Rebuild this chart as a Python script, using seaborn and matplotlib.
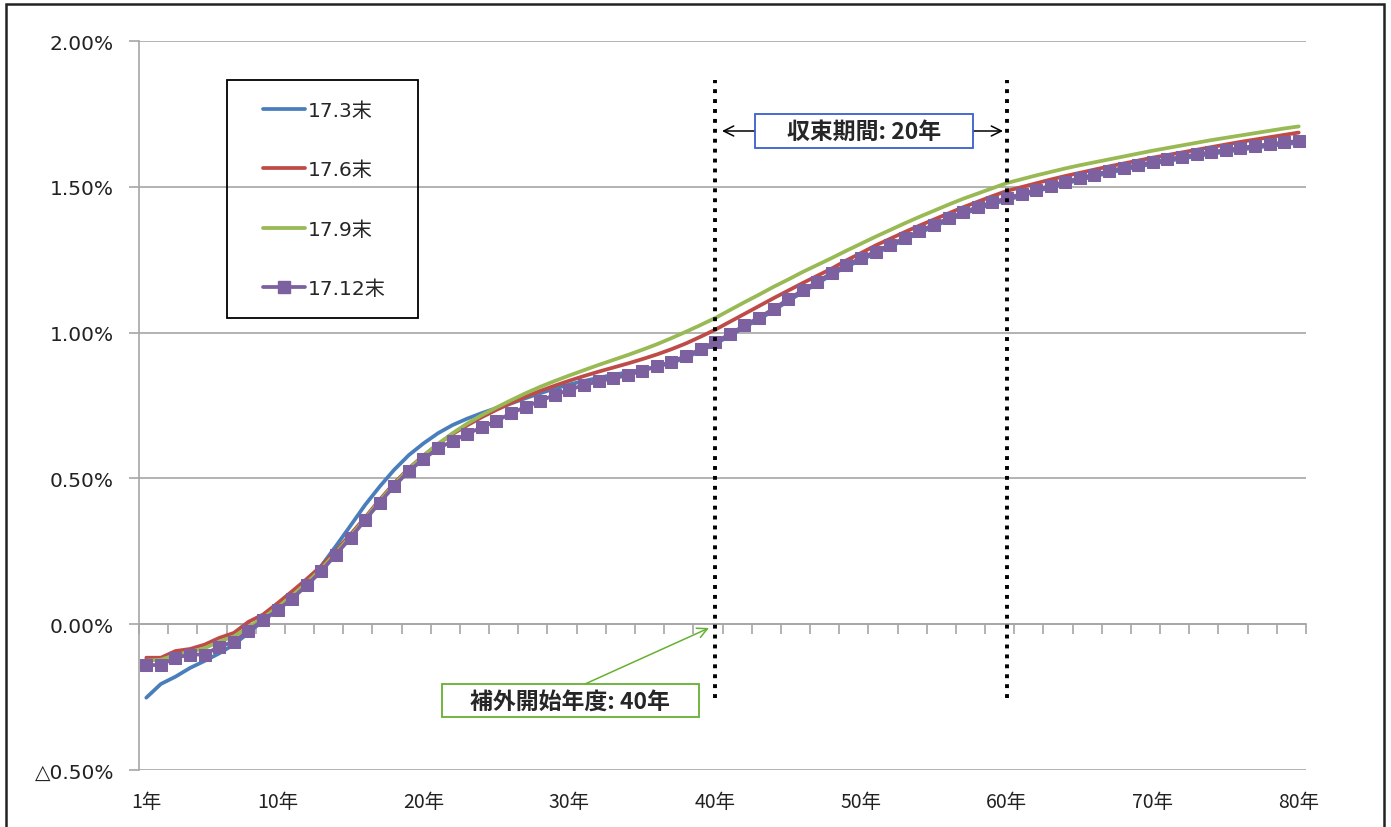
import numpy as np
import pandas as pd
import matplotlib
matplotlib.use('Agg')
import matplotlib.pyplot as plt
import seaborn as sns
from matplotlib.patches import Rectangle
from matplotlib.lines import Line2D

sns.set_style('white')
plt.rcParams['font.family'] = ['DejaVu Sans', 'Noto Sans CJK JP']
plt.rcParams['axes.unicode_minus'] = False

# 経過年数 (1年 ~ 80年)
years = list(range(1, 81))
series_names = ['17.3末', '17.6末', '17.9末', '17.12末']
colors = ['#4a7ebb', '#be4b48', '#98b954', '#7d60a0']

# フォワードレート (%)
rate_1703 = [-0.252, -0.205, -0.180, -0.150, -0.126, -0.100, -0.070, -0.030, 0.012, 0.050,
             0.092, 0.140, 0.200, 0.268, 0.338, 0.409, 0.472, 0.530, 0.580, 0.620,
             0.655, 0.683, 0.705, 0.724, 0.741, 0.757, 0.775, 0.792, 0.808, 0.822,
             0.834, 0.845, 0.855, 0.864, 0.873, 0.883, 0.896, 0.914, 0.937, 0.962,
             0.988, 1.019, 1.045, 1.076, 1.108, 1.139, 1.168, 1.199, 1.226, 1.249,
             1.272, 1.295, 1.319, 1.342, 1.364, 1.386, 1.406, 1.425, 1.441, 1.455,
             1.469, 1.484, 1.498, 1.511, 1.524, 1.536, 1.548, 1.559, 1.569, 1.579,
             1.588, 1.597, 1.605, 1.613, 1.620, 1.627, 1.634, 1.640, 1.646, 1.651]
rate_1706 = [-0.115, -0.115, -0.092, -0.085, -0.070, -0.047, -0.030, 0.008, 0.033, 0.072,
             0.113, 0.155, 0.200, 0.252, 0.308, 0.366, 0.427, 0.484, 0.535, 0.578,
             0.618, 0.652, 0.682, 0.710, 0.735, 0.758, 0.780, 0.800, 0.818, 0.835,
             0.851, 0.866, 0.880, 0.894, 0.909, 0.925, 0.943, 0.963, 0.986, 1.010,
             1.037, 1.064, 1.091, 1.118, 1.144, 1.170, 1.195, 1.220, 1.248, 1.273,
             1.299, 1.322, 1.345, 1.367, 1.388, 1.409, 1.430, 1.449, 1.468, 1.486,
             1.499, 1.512, 1.525, 1.537, 1.548, 1.559, 1.570, 1.580, 1.590, 1.600,
             1.609, 1.618, 1.627, 1.636, 1.645, 1.654, 1.662, 1.670, 1.678, 1.686]
rate_1709 = [-0.125, -0.122, -0.105, -0.095, -0.082, -0.060, -0.042, -0.010, 0.022, 0.058,
             0.098, 0.142, 0.190, 0.245, 0.302, 0.362, 0.423, 0.480, 0.532, 0.578,
             0.618, 0.655, 0.688, 0.717, 0.743, 0.768, 0.792, 0.814, 0.834, 0.853,
             0.871, 0.889, 0.906, 0.923, 0.941, 0.960, 0.981, 1.003, 1.026, 1.050,
             1.077, 1.104, 1.130, 1.157, 1.182, 1.208, 1.232, 1.256, 1.281, 1.305,
             1.329, 1.352, 1.375, 1.397, 1.418, 1.439, 1.459, 1.477, 1.495, 1.513,
             1.526, 1.539, 1.551, 1.563, 1.574, 1.584, 1.594, 1.604, 1.614, 1.624,
             1.633, 1.642, 1.651, 1.660, 1.668, 1.676, 1.684, 1.692, 1.700, 1.707]
rate_1712 = [-0.140, -0.140, -0.115, -0.104, -0.104, -0.077, -0.060, -0.023, 0.014, 0.048,
             0.088, 0.133, 0.182, 0.239, 0.296, 0.357, 0.417, 0.474, 0.525, 0.566,
             0.603, 0.628, 0.653, 0.675, 0.697, 0.723, 0.745, 0.766, 0.786, 0.804,
             0.820, 0.833, 0.843, 0.854, 0.869, 0.884, 0.900, 0.920, 0.943, 0.968,
             0.994, 1.025, 1.051, 1.082, 1.114, 1.145, 1.174, 1.205, 1.232, 1.255,
             1.278, 1.301, 1.325, 1.348, 1.370, 1.392, 1.412, 1.431, 1.447, 1.461,
             1.475, 1.490, 1.504, 1.517, 1.530, 1.542, 1.554, 1.565, 1.575, 1.585,
             1.594, 1.603, 1.611, 1.619, 1.626, 1.633, 1.640, 1.646, 1.652, 1.657]

y_ticks = [-0.5, 0.0, 0.5, 1.0, 1.5, 2.0]
y_labels = ['△0.50%', '0.00%', '0.50%', '1.00%', '1.50%', '2.00%']
x_label_years = [1, 10, 20, 30, 40, 50, 60, 70, 80]
x_labels = [f'{y}年' for y in x_label_years]

start_year = 40   # 補外開始年度
conv_period = 20  # 収束期間

rates = [rate_1703, rate_1706, rate_1709, rate_1712]
df = pd.DataFrame({'年': years * 4,
                   '系列': sum([[n] * len(years) for n in series_names], []),
                   'レート': sum(rates, [])})

W, H = 1391, 828
fig = plt.figure(figsize=(W / 100, H / 100), dpi=100)
ax = fig.add_axes([139 / W, 1 - 771 / H, (1306 - 139) / W, (771 - 42) / H])

grid_c = '#a6a6a6'
for name, c in zip(series_names, colors):
    sub = df[df['系列'] == name]
    if name == '17.12末':
        sns.lineplot(data=sub, x='年', y='レート', color=c, lw=2.7, marker='s',
                     markersize=8, markeredgecolor=c, ax=ax, zorder=3)
    else:
        sns.lineplot(data=sub, x='年', y='レート', color=c, lw=2.7, ax=ax, zorder=3)

ax.set_xlim(0.5, 80.5)
ax.set_ylim(-0.5, 2.0)
ax.set_xlabel('')
ax.set_ylabel('')

# y軸
ax.set_yticks(y_ticks)
ax.set_yticklabels(y_labels, fontsize=14.5)
ax.tick_params(axis='y', left=True, direction='out', length=7, width=1.2, color=grid_c,
               pad=11, labelcolor='#222222')
ax.grid(axis='y', color=grid_c, lw=1.2)
ax.grid(axis='x', visible=False)
for s in ['top', 'right']:
    ax.spines[s].set_visible(False)
ax.spines['left'].set_color(grid_c)
ax.spines['left'].set_linewidth(1.2)

# x軸 (0%の位置)
ax.spines['bottom'].set_position(('data', 0))
ax.spines['bottom'].set_color(grid_c)
ax.spines['bottom'].set_linewidth(1.2)
ax.set_xticks(np.arange(0.5, 81, 2))
ax.tick_params(axis='x', bottom=True, direction='out', length=7, width=1.2, color=grid_c,
               labelbottom=False)

sec = ax.secondary_xaxis('bottom')
sec.set_xticks(x_label_years)
sec.set_xticklabels(x_labels, fontsize=14, family=['Noto Sans CJK JP'])
sec.tick_params(bottom=False, length=0, pad=15, labelcolor='#222222')
sec.spines['bottom'].set_visible(False)

# 点線
ax.vlines([start_year, start_year + conv_period], -0.254, 1.865, colors='black',
          lw=2.8, linestyles=(0, (1, 1.55)), zorder=5)

# 収束期間
fig.add_artist(Rectangle((755, H - 149), 218, 34, transform=None, fill=True,
                         fc='white', ec='#3a5fcd', lw=1.3, zorder=6))
fig.text(864, H - 132, '収束期間: 20年', transform=None, ha='center', va='center',
         fontsize=16.5, fontweight='bold', family=['Noto Sans CJK JP'], zorder=7)
ax.annotate('', xy=(722, H - 132), xycoords='figure pixels', xytext=(755, H - 132),
            arrowprops=dict(arrowstyle='->', color='black', lw=1.1, shrinkA=0, shrinkB=0,
                            mutation_scale=18))
ax.annotate('', xy=(1003, H - 132), xycoords='figure pixels', xytext=(973, H - 132),
            arrowprops=dict(arrowstyle='->', color='black', lw=1.1, shrinkA=0, shrinkB=0,
                            mutation_scale=18))

# 補外開始年度
fig.add_artist(Rectangle((442, H - 718), 257, 33, transform=None, fill=True,
                         fc='white', ec='#66b032', lw=1.3, zorder=6))
fig.text(570, H - 702, '補外開始年度: 40年', transform=None, ha='center', va='center',
         fontsize=16.5, fontweight='bold', family=['Noto Sans CJK JP'], zorder=7)
ax.annotate('', xy=(709, H - 629), xycoords='figure pixels', xytext=(585, H - 685),
            arrowprops=dict(arrowstyle='->', color='#66b032', lw=1.1, shrinkA=0, shrinkB=0,
                            mutation_scale=18))

# 凡例
handles = []
for name, c in zip(series_names, colors):
    if name == '17.12末':
        handles.append(Line2D([], [], color=c, lw=2.7, marker='s', markersize=8))
    else:
        handles.append(Line2D([], [], color=c, lw=2.7))
fig.legend(handles, series_names, loc='upper left', bbox_to_anchor=(263 / W, 1 - 102 / H),
           frameon=False, borderpad=0, borderaxespad=0, handlelength=2.1,
           handletextpad=0.15, labelspacing=2.0, fontsize=14.5)
fig.add_artist(Rectangle((227, H - 319), 191, 238, transform=None, fill=False,
                         ec='black', lw=1.3))

# 外枠
fig.add_artist(Rectangle((6, -20), 1378, H - 5 + 20, transform=None, fill=False,
                         ec='#222222', lw=1.8))

fig.savefig('out.png', dpi=100)
